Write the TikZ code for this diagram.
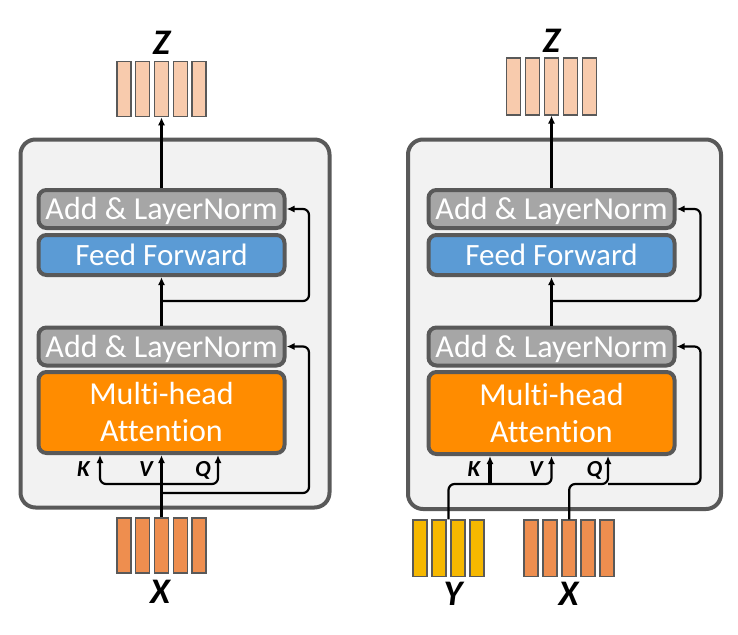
\documentclass[tikz,border=0pt]{standalone}
\usepackage{fontspec}
\setmainfont{Carlito}[Ligatures=NoCommon]
\usetikzlibrary{arrows.meta,calc}
\definecolor{edge}{HTML}{595959}
\definecolor{encfill}{HTML}{F2F2F2}
\definecolor{lnfill}{HTML}{A6A6A6}
\definecolor{fffill}{HTML}{5B9BD5}
\definecolor{mhafill}{HTML}{FF8C00}
\definecolor{zfill}{HTML}{F8CBAD}
\definecolor{xfill}{HTML}{EE8E4F}
\definecolor{yfill}{HTML}{F6B800}
\begin{document}
\begin{tikzpicture}[x=1pt, y=-1pt,
  outer/.style={draw=edge, fill=encfill, line width=4pt, rounded corners=15pt},
  block/.style={draw=edge, line width=4pt, rounded corners=8pt, text=white, inner sep=0pt,
    minimum width=246pt, font=\fontsize{32}{37}\selectfont},
  ln/.style={block, fill=lnfill, minimum height=38pt, text height=21pt, text depth=0pt},
  ff/.style={block, fill=fffill, minimum height=40pt, text height=21pt, text depth=0pt,
    font=\fontsize{31}{37}\selectfont},
  mha/.style={block, fill=mhafill, minimum height=81pt, align=center},
  bar/.style={draw=edge, line width=1.5pt, minimum width=14pt, minimum height=55pt, inner sep=0pt},
  kvq/.style={font=\fontsize{23}{24}\selectfont\bfseries\itshape, inner sep=0pt,
    text height=14.5pt, text depth=0pt},
  vec/.style={font=\fontsize{36}{40}\selectfont\bfseries\itshape, inner sep=0pt,
    text height=23pt, text depth=0pt},
  arr/.style={-{Latex[length=8pt,width=7pt]}},
  thinline/.style={line width=2.2pt},
  thickline/.style={line width=3.5pt}]
\useasboundingbox (0,0) rectangle (738,634);
% left: encoder with self-attention
\node[outer, minimum width=309pt, minimum height=368pt] (encl) at (175,323.5) {};
\node[ln] (addl1) at (161.5,209) {Add \& LayerNorm};
\node[ff] (ffl) at (161.5,255) {Feed Forward};
\node[ln] (addl2) at (161.5,346.5) {Add \& LayerNorm};
\node[mha] (mhl) at (161.5,412.5) {Multi-head\\Attention};
\foreach \i in {1,...,5} {
  \node[bar, fill=zfill] (zl\i) at ({161.5+(\i-3)*18.8},89) {};
  \node[bar, fill=xfill] (xl\i) at ({161.5+(\i-3)*18.8},545.5) {};
}
\node[vec] (zlab) at (161.5,43.5) {Z};
\node[vec] (xlab) at (160,591.5) {X};
\node[kvq] (kl) at (83.5,469) {K};
\node[kvq] (vl) at (146,469) {V};
\node[kvq] (ql) at (203,469) {Q};
\coordinate (rl1) at (161.5,301);
\coordinate (rl2) at (161.5,493);
\coordinate (jl) at (161.5,484);
\coordinate (kjl) at (100,484);
\coordinate (qjl) at (218,484);
\draw[thinline, arr] (addl1.north) -- (zl3.south);
\draw[thickline, arr] (addl2.north) -- (ffl.south);
\draw[thinline, arr, rounded corners=6pt] (rl1) -| ($(addl1.east)+(22.5,0)$) -- (addl1.east);
\draw[thickline, arr] (xl3.north) -- (mhl.south);
\draw[thinline, arr, rounded corners=6pt] (rl2) -| ($(addl2.east)+(22.5,0)$) -- (addl2.east);
\draw[thinline, arr, rounded corners=6pt] (jl) -- (kjl) -- (kjl |- mhl.south);
\draw[thinline, arr, rounded corners=6pt] (jl) -- (qjl) -- (qjl |- mhl.south);
% right: cross-attention
\node[outer, minimum width=313pt, minimum height=369.5pt] (encr) at (564.5,324.25) {};
\node[ln] (addr1) at (551.5,209) {Add \& LayerNorm};
\node[ff] (ffr) at (551.5,255) {Feed Forward};
\node[ln] (addr2) at (551.5,346.5) {Add \& LayerNorm};
\node[mha, minimum height=82pt] (mhr) at (551.5,413) {Multi-head\\Attention};
\foreach \i in {1,...,5} {
  \node[bar, fill=zfill, minimum height=56.5pt] (zr\i) at ({551.5+(\i-3)*19},86.5) {};
  \node[bar, fill=xfill, minimum height=56.5pt] (xr\i) at ({569.2+(\i-3)*19},548.3) {};
}
\foreach \i in {1,...,4}
  \node[bar, fill=yfill, minimum height=56.5pt] (yr\i) at ({448.5+(\i-2.5)*19},548.3) {};
\node[vec] (zrlab) at (551.5,41) {Z};
\node[vec] (yrlab) at (453,594) {Y};
\node[vec] (xrlab) at (568.5,594) {X};
\node[kvq] (kr) at (474,469) {K};
\node[kvq] (vr) at (536,469) {V};
\node[kvq] (qr) at (594.5,469) {Q};
\coordinate (rr1) at (551.5,301);
\coordinate (ytop) at ($(yr2.north)!.5!(yr3.north)$);
\coordinate (kjr) at (490,484);
\coordinate (qjr) at (608,484);
\draw[thinline, arr] (addr1.north) -- (zr3.south);
\draw[thickline, arr] (addr2.north) -- (ffr.south);
\draw[thinline, arr, rounded corners=6pt] (rr1) -| ($(addr1.east)+(24,0)$) -- (addr1.east);
\draw[thinline, arr, rounded corners=6pt] (ytop) |- (kjr) -| (mhr.south);
\draw[thickline, arr] (kjr) -- (kjr |- mhr.south);
\draw[thinline, arr, rounded corners=6pt] (xr3.north) |- (qjr) -- (qjr |- mhr.south);
\draw[thinline, arr, rounded corners=6pt] (qjr) -| ($(addr2.east)+(24,0)$) -- (addr2.east);
\end{tikzpicture}
\end{document}
